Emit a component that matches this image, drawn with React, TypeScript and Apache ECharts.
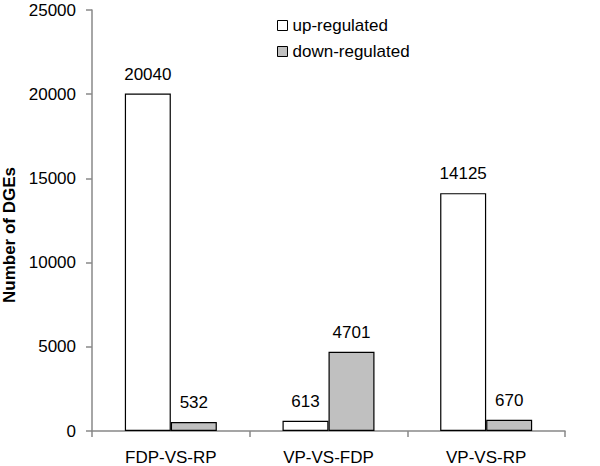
import React, { useEffect, useRef } from "react";
import * as echarts from "echarts";

const categories = ["FDP-VS-RP", "VP-VS-FDP", "VP-VS-RP"];
const upRegulated = [20040, 613, 14125];
const downRegulated = [532, 4701, 670];
const seriesNames = ["up-regulated", "down-regulated"];
const yAxisTitle = "Number of DGEs";

const FONT = "'Liberation Sans', Arial, Helvetica, sans-serif";

export default function App() {
  const ref = useRef<HTMLDivElement>(null);
  useEffect(() => {
    if (!ref.current) return;
    const chart = echarts.init(ref.current, null, { renderer: "svg" });
    const labelStyle = {
      show: true,
      position: "top" as const,
      distance: 11,
      color: "#000",
      fontSize: 17,
      fontFamily: FONT,
    };
    chart.setOption({
      animation: false,
      backgroundColor: "#fff",
      textStyle: { fontFamily: FONT },
      grid: { left: 92, right: 35, top: 10, bottom: 35, containLabel: false },
      legend: {
        orient: "vertical",
        left: 272,
        top: 12,
        itemGap: 9,
        itemWidth: 10,
        itemHeight: 10,
        icon: "rect",
        itemStyle: { borderColor: "#000", borderWidth: 1 },
        textStyle: { fontSize: 17, color: "#000", fontFamily: FONT },
        data: seriesNames,
      },
      graphic: [
        {
          type: "text",
          x: 9,
          y: 235,
          rotation: Math.PI / 2,
          style: {
            text: yAxisTitle,
            fontSize: 17,
            fontWeight: "bold",
            fontFamily: FONT,
            fill: "#000",
            align: "center",
            verticalAlign: "middle",
          },
        },
      ],
      xAxis: {
        type: "category",
        data: categories,
        axisLine: { lineStyle: { color: "#888", width: 1.5 } },
        axisTick: { show: true, length: 6, alignWithLabel: false, lineStyle: { color: "#888", width: 1.5 } },
        axisLabel: { color: "#000", fontSize: 17, fontFamily: FONT, margin: 18 },
      },
      yAxis: {
        type: "value",
        min: 0,
        max: 25000,
        interval: 5000,
        axisLine: { show: true, lineStyle: { color: "#888", width: 1.5 } },
        axisTick: { show: true, length: 6, lineStyle: { color: "#888", width: 1.5 } },
        axisLabel: { color: "#000", fontSize: 17, fontFamily: FONT, margin: 16, formatter: (v: number) => String(v) },
        splitLine: { show: false },
      },
      series: [
        {
          name: seriesNames[0],
          type: "bar",
          data: upRegulated,
          barWidth: 46,
          barGap: "0%",
          itemStyle: { color: "#fff", borderColor: "#000", borderWidth: 1.2 },
          label: labelStyle,
        },
        {
          name: seriesNames[1],
          type: "bar",
          data: downRegulated,
          barWidth: 46,
          barGap: "0%",
          itemStyle: { color: "#c0c0c0", borderColor: "#000", borderWidth: 1.2 },
          label: labelStyle,
        },
      ],
    });
    return () => chart.dispose();
  }, []);
  return <div ref={ref} style={{ width: 600, height: 466, position: "absolute", left: 0, top: 0 }} />;
}
